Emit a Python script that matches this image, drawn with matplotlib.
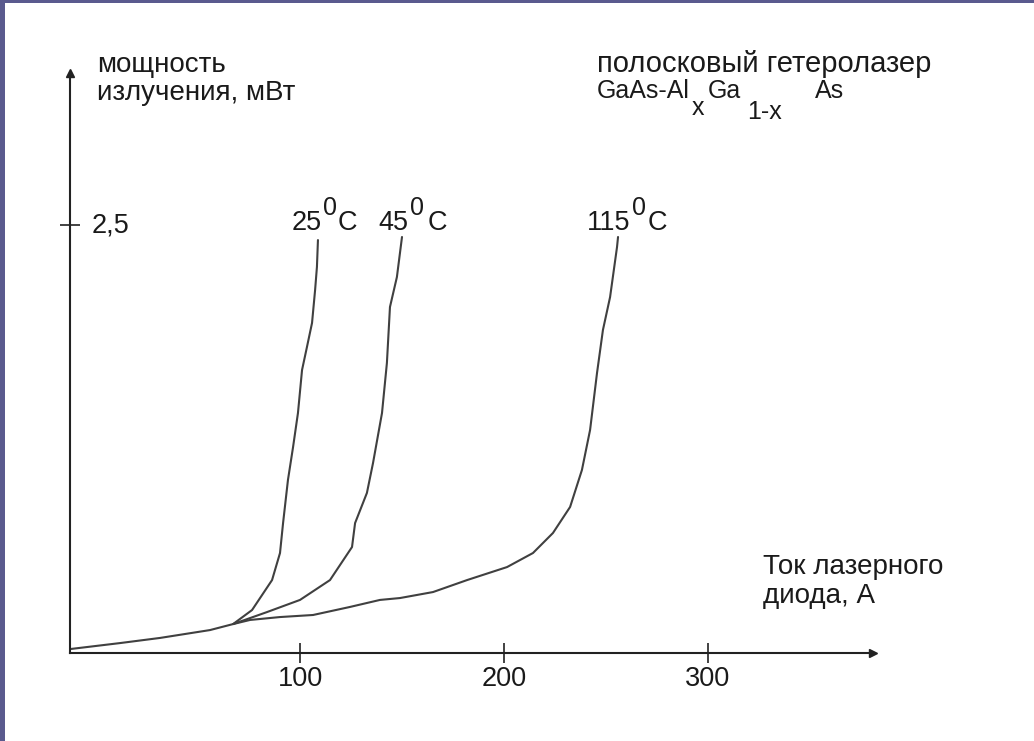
import matplotlib
matplotlib.use("Agg")
import matplotlib.pyplot as plt
from matplotlib.patches import Rectangle
import matplotlib.transforms as mtransforms

plt.rcParams['font.family'] = ['Liberation Sans', 'DejaVu Sans']

# ---- data ----
base_x = [-12.7, 11.8, 31.4, 55.9, 67.2]
base_y = [0.023, 0.058, 0.088, 0.134, 0.169]

t25_x = [76.5, 86.3, 90.2, 91.7, 94.1, 96.6, 99.0, 101.0, 103.4, 105.9, 107.4, 108.3, 108.8]
t25_y = [0.251, 0.426, 0.584, 0.759, 1.011, 1.203, 1.402, 1.653, 1.787, 1.928, 2.120, 2.255, 2.412]

t45_x = [75.5, 83.8, 100.0, 114.7, 125.5, 127.0, 132.8, 135.8, 140.2, 142.6, 144.1, 147.5, 150.0]
t45_y = [0.204, 0.239, 0.310, 0.426, 0.619, 0.759, 0.935, 1.110, 1.402, 1.694, 2.021, 2.196, 2.430]

t115_x = [75.5, 90.2, 106.4, 124.5, 139.2, 149.0, 165.2, 181.9, 201.5, 214.2, 224.0, 232.4,
          238.2, 242.2, 245.6, 248.5, 252.0, 255.4, 255.9]
t115_y = [0.193, 0.210, 0.222, 0.269, 0.310, 0.321, 0.356, 0.426, 0.502, 0.584, 0.701, 0.853,
          1.069, 1.303, 1.636, 1.887, 2.079, 2.371, 2.430]

x_ticks = [100, 200, 300]
x_tick_labels = ['100', '200', '300']
y_ticks = [2.5]
y_tick_labels = ['2,5']

W, H = 1034, 741
fig = plt.figure(figsize=(W / 100, H / 100), dpi=100)
fig.patch.set_facecolor('white')

# slide border (top and left)
border = '#5a5a8e'
fig.patches.append(Rectangle((0, 1 - 3 / H), 1, 3 / H, transform=fig.transFigure,
                             facecolor=border, edgecolor='none', zorder=0))
fig.patches.append(Rectangle((0, 0), 5 / W, 1, transform=fig.transFigure,
                             facecolor=border, edgecolor='none', zorder=0))


def fx(px):
    return px / W


def fy(py):
    return 1 - py / H


ax_l, ax_r, ax_t, ax_b = 70, 873, 73, 653
ax = fig.add_axes([fx(ax_l), fy(ax_b), (ax_r - ax_l) / W, (ax_b - ax_t) / H])
ax.set_facecolor('none')

xs = 2.04  # px per A
ax.set_xlim(100 + (ax_l - 300) / xs, 100 + (ax_r - 300) / xs)
ys = 171.2  # px per mW
ax.set_ylim(0, (ax_b - ax_t) / ys)

line_c = '#404040'
lw = 1.5
kw = dict(color=line_c, lw=lw, solid_joinstyle='round', solid_capstyle='round')
ax.plot(base_x + t25_x, base_y + t25_y, **kw)
ax.plot(base_x[-1:] + t45_x, base_y[-1:] + t45_y, **kw)
ax.plot(base_x[-1:] + t115_x, base_y[-1:] + t115_y, **kw)

ax_c = '#222222'
for s in ['top', 'right']:
    ax.spines[s].set_visible(False)
for s in ['left', 'bottom']:
    ax.spines[s].set_color(ax_c)
    ax.spines[s].set_linewidth(1.5)

# arrow heads
ax.plot(1, 0, marker='>', color=ax_c, ms=6, transform=ax.transAxes, clip_on=False)
ax.plot(0, 1, marker='^', color=ax_c, ms=6, transform=ax.transAxes, clip_on=False)

tc = '#1a1a1a'
dfs = 19.5   # digits
cfs = 20     # cyrillic
lfs = 18     # latin formula

ax.set_xticks(x_ticks)
ax.set_xticklabels(x_tick_labels)
ax.tick_params(axis='x', direction='inout', length=14, width=1.2, color=ax_c,
               labelsize=dfs, pad=2, labelcolor=tc)
ax.set_yticks(y_ticks)
ax.set_yticklabels([''] * len(y_ticks))
ax.tick_params(axis='y', direction='inout', length=14, width=1.2, color=ax_c)
trans = mtransforms.blended_transform_factory(ax.transAxes, ax.transData)
for v, lab in zip(y_ticks, y_tick_labels):
    ax.text(22 / (ax_r - ax_l), v, lab, transform=trans, fontsize=dfs, color=tc,
            ha='left', va='center')

# axis titles
fig.text(fx(97), fy(72), 'мощность', fontsize=cfs, color=tc, ha='left', va='baseline')
fig.text(fx(97), fy(100), 'излучения, мВт', fontsize=cfs, color=tc, ha='left', va='baseline')
fig.text(fx(763), fy(574), 'Ток лазерного', fontsize=cfs, color=tc, ha='left', va='baseline')
fig.text(fx(763), fy(603), 'диода, А', fontsize=cfs, color=tc, ha='left', va='baseline')

# device annotation
fig.text(fx(597), fy(72), 'полосковый гетеролазер', fontsize=21, color=tc, ha='left', va='baseline')
fig.text(fx(597), fy(98), 'GaAs-Al', fontsize=lfs, color=tc, ha='left', va='baseline')
fig.text(fx(692), fy(115), 'x', fontsize=lfs, color=tc, ha='left', va='baseline')
fig.text(fx(708), fy(98), 'Ga', fontsize=lfs, color=tc, ha='left', va='baseline')
fig.text(fx(747), fy(119), '1-x', fontsize=lfs, color=tc, ha='left', va='baseline')
fig.text(fx(815), fy(98), 'As', fontsize=lfs, color=tc, ha='left', va='baseline')

# temperature labels: (number, x of number, x of superscript 0, x of C)
temps = [('25', 292, 323, 338), ('45', 378, 410, 428), ('115', 587, 632, 648)]
for t, px, p0, pc in temps:
    fig.text(fx(px), fy(230), t, fontsize=dfs, color=tc, ha='left', va='baseline')
    fig.text(fx(p0), fy(215), '0', fontsize=18, color=tc, ha='left', va='baseline')
    fig.text(fx(pc), fy(230), 'C', fontsize=dfs, color=tc, ha='left', va='baseline')

fig.savefig('out.png', dpi=100, facecolor=fig.get_facecolor())
